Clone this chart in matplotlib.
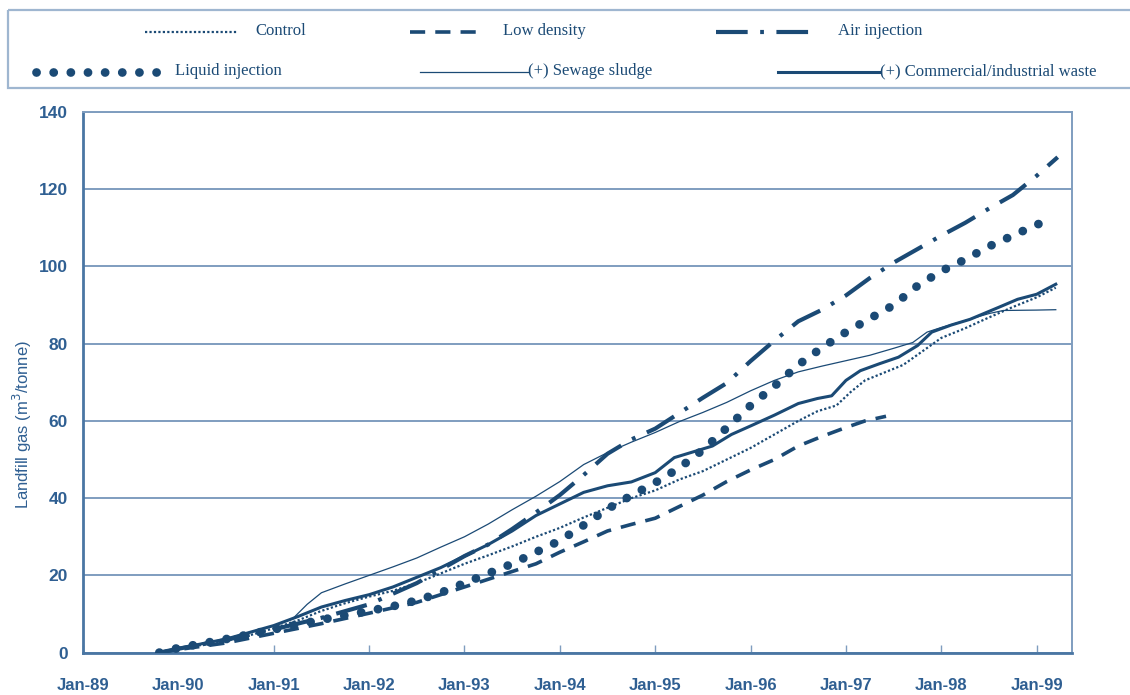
import matplotlib
matplotlib.use("Agg")
import matplotlib.pyplot as plt
from matplotlib.patches import Rectangle
from matplotlib.lines import Line2D

# ---- data: cumulative landfill gas (m3/tonne) against time (decimal years) ----
t_control = [1989.80, 1990.00, 1990.25, 1990.50, 1990.75, 1991.00, 1991.25, 1991.50, 1991.75,
             1992.00, 1992.25, 1992.50, 1992.75, 1993.00, 1993.25, 1993.50, 1993.75, 1994.00,
             1994.25, 1994.50, 1994.75, 1995.00, 1995.25, 1995.50, 1995.75, 1996.00, 1996.25,
             1996.50, 1996.70, 1996.90, 1997.05, 1997.20, 1997.40, 1997.60, 1997.80, 1998.00,
             1998.25, 1998.50, 1998.75, 1999.00, 1999.20]
control = [0, 1.0, 2.0, 3.0, 4.5, 6.3, 8.3, 10.8, 12.8,
           14.5, 16.0, 18.0, 20.5, 23.0, 25.2, 27.5, 30.0, 32.3,
           35.0, 37.5, 40.0, 42.0, 44.8, 47.0, 50.0, 53.0, 56.5,
           60.0, 62.5, 64.0, 67.5, 70.5, 72.5, 74.5, 78.0, 81.5,
           84.0, 86.8, 89.5, 92.0, 94.5]

t_low = [1989.80, 1990.00, 1990.50, 1991.00, 1991.50, 1992.00, 1992.50, 1993.00, 1993.25,
         1993.50, 1993.75, 1994.00, 1994.25, 1994.50, 1994.75, 1995.00, 1995.25, 1995.50,
         1995.75, 1996.00, 1996.25, 1996.50, 1996.75, 1997.00, 1997.20, 1997.42]
low_density = [0, 0.8, 2.5, 5.0, 7.5, 10.2, 13.0, 17.0, 19.0,
               21.0, 23.0, 26.0, 28.7, 31.5, 33.2, 34.8, 37.8, 40.8,
               44.3, 47.3, 50.0, 53.5, 56.0, 58.3, 60.0, 61.2]

t_air = [1989.80, 1990.00, 1990.50, 1991.00, 1991.50, 1992.00, 1992.50, 1993.00, 1993.25,
         1993.50, 1993.75, 1994.00, 1994.25, 1994.50, 1994.75, 1995.00, 1995.25, 1995.50,
         1995.75, 1996.00, 1996.25, 1996.50, 1996.75, 1997.00, 1997.25, 1997.50, 1997.75,
         1998.00, 1998.25, 1998.50, 1998.75, 1999.00, 1999.22]
air_injection = [0, 1.0, 3.3, 6.0, 9.0, 12.5, 18.0, 25.0, 28.0,
                 32.0, 36.3, 40.8, 46.0, 51.5, 55.2, 58.0, 62.0, 66.0,
                 69.8, 75.5, 80.8, 85.8, 88.8, 92.5, 97.0, 101.0, 104.5,
                 108.0, 111.3, 115.0, 118.5, 123.5, 128.3]

t_liquid = [1989.80, 1990.00, 1990.50, 1991.00, 1991.50, 1992.00, 1992.25, 1992.50, 1992.75,
            1993.00, 1993.25, 1993.50, 1993.75, 1994.00, 1994.25, 1994.50, 1994.75, 1995.00,
            1995.25, 1995.50, 1995.75, 1996.00, 1996.25, 1996.50, 1996.75, 1997.00, 1997.25,
            1997.50, 1997.75, 1998.00, 1998.25, 1998.50, 1998.75, 1999.00, 1999.12]
liquid_injection = [0, 1.2, 3.5, 6.0, 8.5, 10.8, 12.0, 13.5, 15.5,
                    18.0, 20.5, 23.0, 26.0, 29.0, 33.0, 37.2, 40.7, 44.0,
                    47.8, 52.5, 58.2, 64.0, 69.0, 74.5, 79.0, 83.0, 86.5,
                    90.0, 95.0, 98.8, 101.8, 105.2, 108.0, 110.8, 112.0]

t_sewage = [1989.80, 1990.00, 1990.50, 1991.00, 1991.20, 1991.35, 1991.50, 1991.75, 1992.00,
            1992.25, 1992.50, 1992.75, 1993.00, 1993.25, 1993.50, 1993.75, 1994.00, 1994.25,
            1994.50, 1994.75, 1995.00, 1995.25, 1995.50, 1995.75, 1996.00, 1996.25, 1996.50,
            1996.75, 1997.00, 1997.25, 1997.50, 1997.70, 1997.85, 1998.00, 1998.25, 1998.50,
            1998.65, 1999.00, 1999.20]
sewage_sludge = [0, 1.2, 3.6, 7.0, 8.8, 12.5, 15.5, 17.8, 20.0,
                 22.2, 24.5, 27.3, 30.0, 33.3, 37.0, 40.5, 44.3, 48.7,
                 51.8, 54.5, 57.0, 59.8, 62.2, 64.8, 67.8, 70.5, 72.7,
                 74.2, 75.6, 77.0, 78.8, 80.3, 83.0, 84.2, 86.0, 87.8,
                 88.6, 88.7, 88.8]

t_commercial = [1989.80, 1990.00, 1990.50, 1991.00, 1991.25, 1991.50, 1991.75, 1992.00, 1992.25,
                1992.50, 1992.75, 1993.00, 1993.25, 1993.50, 1993.75, 1994.00, 1994.25, 1994.50,
                1994.75, 1995.00, 1995.20, 1995.40, 1995.60, 1995.80, 1996.00, 1996.25, 1996.50,
                1996.70, 1996.85, 1997.00, 1997.15, 1997.35, 1997.55, 1997.75, 1997.90, 1998.10,
                1998.30, 1998.60, 1998.80, 1999.00, 1999.20]
commercial_waste = [0, 1.1, 3.5, 7.0, 9.3, 11.8, 13.5, 15.0, 17.0,
                    19.5, 22.0, 25.0, 28.0, 31.5, 35.5, 38.5, 41.5, 43.2,
                    44.2, 46.6, 50.5, 52.0, 53.5, 56.5, 58.7, 61.5, 64.5,
                    65.8, 66.5, 70.5, 73.0, 74.8, 76.5, 79.5, 83.0, 84.8,
                    86.3, 89.4, 91.5, 92.8, 95.4]

tick_years = [1989, 1990, 1991, 1992, 1993, 1994, 1995, 1996, 1997, 1998, 1999]
tick_labels = ["Jan-89", "Jan-90", "Jan-91", "Jan-92", "Jan-93", "Jan-94",
               "Jan-95", "Jan-96", "Jan-97", "Jan-98", "Jan-99"]
y_ticks = [0, 20, 40, 60, 80, 100, 120, 140]

# ---- styling ----
NAVY = "#1b4a75"
GRID = "#7f9dbf"
SPINE = "#4a76a3"
TICKTXT = "#2f5f92"

W, H = 1130, 695
fig = plt.figure(figsize=(W / 100, H / 100), dpi=100)
fig.patch.set_facecolor("white")

ax = fig.add_axes([83 / W, 1 - 652.6 / H, (1072 - 83) / W, (652.6 - 112) / H])

styles = {
    "control": dict(color=NAVY, lw=1.6, linestyle=(0, (1.0, 1.0)), dash_capstyle="butt"),
    "low": dict(color=NAVY, lw=2.6, linestyle=(0, (4.2, 2.8)), dash_capstyle="butt"),
    "air": dict(color=NAVY, lw=3.0, linestyle=(0, (7.6, 3.0, 0.9, 3.0)), dash_capstyle="butt"),
    "liquid": dict(color=NAVY, lw=6.3, linestyle=(0, (0.01, 1.95)), dash_capstyle="round"),
    "sewage": dict(color=NAVY, lw=0.9, linestyle="-"),
    "commercial": dict(color=NAVY, lw=2.2, linestyle="-"),
}

ax.plot(t_low, low_density, **styles["low"], zorder=3)
ax.plot(t_control, control, **styles["control"], zorder=3)
ax.plot(t_liquid, liquid_injection, **styles["liquid"], zorder=4)
ax.plot(t_sewage, sewage_sludge, **styles["sewage"], zorder=3)
ax.plot(t_commercial, commercial_waste, **styles["commercial"], zorder=3)
ax.plot(t_air, air_injection, **styles["air"], zorder=5)

ax.set_xlim(1989.0, 1999.37)
ax.set_ylim(0, 140)
ax.set_yticks(y_ticks)
ax.set_xticks(tick_years)
ax.set_xticklabels(tick_labels)
ax.yaxis.grid(True, color=GRID, lw=1.4)
ax.set_axisbelow(True)

for side in ("top", "right"):
    ax.spines[side].set_color(GRID)
    ax.spines[side].set_linewidth(1.4)
for side in ("left", "bottom"):
    ax.spines[side].set_color(SPINE)
    ax.spines[side].set_linewidth(2.0)

ax.tick_params(axis="x", direction="in", length=6, width=1.0, color=GRID,
               pad=18, labelsize=12, labelcolor=TICKTXT)
ax.tick_params(axis="y", length=0, pad=11, labelsize=12.5, labelcolor=TICKTXT)
for lab in ax.get_xticklabels() + ax.get_yticklabels():
    lab.set_fontfamily("Liberation Sans")
    lab.set_fontweight("bold")

fig.text(22 / W, 1 - 425 / H, "Landfill gas (m$^3$/tonne)", rotation=90,
         ha="center", va="center", fontsize=12, color=TICKTXT,
         fontfamily="Liberation Sans")

# ---- legend panel drawn in figure coordinates ----
leg = fig.add_axes([0, 0, 1, 1], facecolor="none")
leg.set_xlim(0, W)
leg.set_ylim(H, 0)
leg.axis("off")
leg.add_patch(Rectangle((8, 10), 1140, 78, fill=False, edgecolor="#9fb6d0", lw=1.6))

entries = [
    ("control", 145, 237, 32, "Control", 255),
    ("low", 410, 482, 32, "Low density", 503),
    ("air", 716, 810, 32, "Air injection", 838),
    ("liquid", 36, 160, 72, "Liquid injection", 175),
    ("sewage", 420, 528, 72, "(+) Sewage sludge", 528),
    ("commercial", 778, 880, 72, "(+) Commercial/industrial waste", 880),
]
for key, x0, x1, yy, label, tx in entries:
    leg.add_line(Line2D([x0, x1], [yy, yy], **styles[key]))
    leg.text(tx, yy - 1, label, ha="left", va="center", fontsize=12,
             color=NAVY, fontfamily="Liberation Serif")

fig.savefig("out.png", dpi=100)
